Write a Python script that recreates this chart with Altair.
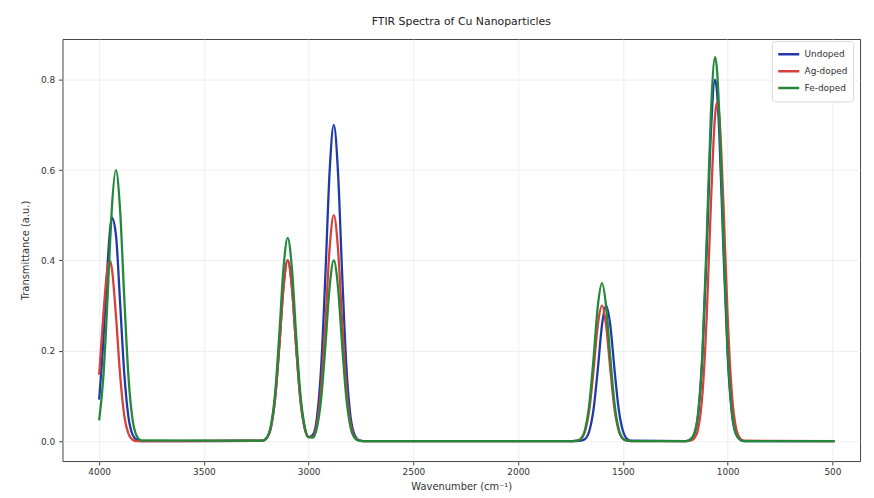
import altair as alt
import pandas as pd

# Wavenumber grid (cm^-1), sampled densely around the absorption bands
wavenumber = [4000, 3980, 3960, 3950, 3940, 3920, 3900, 3880, 3860, 3840, 3820, 3800,
              3220, 3200, 3180, 3160, 3140, 3120, 3100, 3080, 3060, 3040, 3020, 3000,
              2980, 2960, 2940, 2920, 2900, 2880, 2860, 2840, 2820, 2800, 2780, 2760, 2740,
              1740, 1720, 1700, 1680, 1660, 1640, 1620, 1600, 1580, 1560, 1540, 1520, 1500, 1480, 1460,
              1200, 1180, 1160, 1140, 1120, 1100, 1080, 1060, 1050, 1040, 1020, 1000, 980, 960, 940, 920,
              490]

undoped = [0.092, 0.222, 0.389, 0.457, 0.495, 0.457, 0.306, 0.149, 0.053, 0.014, 0.003, 0.0,
           0.001, 0.007, 0.031, 0.095, 0.211, 0.341, 0.4, 0.341, 0.211, 0.095, 0.031, 0.009,
           0.014, 0.054, 0.166, 0.369, 0.596, 0.7, 0.596, 0.369, 0.166, 0.054, 0.013, 0.002, 0.0,
           0.0, 0.0, 0.001, 0.005, 0.023, 0.071, 0.158, 0.256, 0.3, 0.256, 0.158, 0.071, 0.023, 0.005, 0.001,
           0.0, 0.003, 0.015, 0.062, 0.19, 0.422, 0.682, 0.8, 0.769, 0.682, 0.422, 0.19, 0.062, 0.015, 0.003, 0.0,
           0.0]

ag_doped = [0.147, 0.279, 0.384, 0.4, 0.384, 0.279, 0.147, 0.056, 0.016, 0.003, 0.0, 0.0,
            0.001, 0.007, 0.031, 0.095, 0.211, 0.341, 0.4, 0.341, 0.211, 0.095, 0.031, 0.009,
            0.010, 0.039, 0.119, 0.264, 0.426, 0.5, 0.426, 0.264, 0.119, 0.039, 0.009, 0.002, 0.0,
            0.0, 0.001, 0.005, 0.023, 0.071, 0.158, 0.256, 0.3, 0.256, 0.158, 0.071, 0.023, 0.005, 0.001, 0.0,
            0.0, 0.001, 0.006, 0.029, 0.106, 0.276, 0.524, 0.721, 0.75, 0.721, 0.524, 0.276, 0.106, 0.029, 0.006, 0.001,
            0.0]

fe_doped = [0.046, 0.142, 0.316, 0.419, 0.511, 0.6, 0.511, 0.316, 0.142, 0.046, 0.011, 0.002,
            0.001, 0.008, 0.035, 0.107, 0.237, 0.383, 0.45, 0.383, 0.237, 0.107, 0.035, 0.009,
            0.008, 0.031, 0.095, 0.211, 0.341, 0.4, 0.341, 0.211, 0.095, 0.031, 0.007, 0.001, 0.0,
            0.0, 0.001, 0.006, 0.027, 0.083, 0.184, 0.298, 0.35, 0.298, 0.184, 0.083, 0.027, 0.006, 0.001, 0.0,
            0.0, 0.003, 0.016, 0.066, 0.201, 0.448, 0.724, 0.85, 0.817, 0.724, 0.448, 0.201, 0.066, 0.016, 0.003, 0.0,
            0.0]

series_names = ["Undoped", "Ag-doped", "Fe-doped"]
series_colors = ["#1f3aa8", "#d6403a", "#23883a"]
x_ticks = [4000, 3500, 3000, 2500, 2000, 1500, 1000, 500]
y_ticks = [0.0, 0.2, 0.4, 0.6, 0.8]

frames = []
for name, vals in zip(series_names, [undoped, ag_doped, fe_doped]):
    frames.append(pd.DataFrame({"wavenumber": wavenumber, "value": vals, "sample": name}))

FONT = "DejaVu Sans"

x_enc = alt.X("wavenumber:Q",
              scale=alt.Scale(domain=[4175, 368], nice=False, zero=False),
              axis=alt.Axis(values=x_ticks, title="Wavenumber (cm⁻¹)", format="d",
                            labelFontSize=9, titleFontSize=10, titlePadding=5,
                            labelPadding=3, tickSize=4))
y_enc = alt.Y("value:Q",
              scale=alt.Scale(domain=[-0.044, 0.89], nice=False, zero=False),
              axis=alt.Axis(values=y_ticks, format=".1f", title="Transmittance (a.u.)",
                            labelFontSize=9, titleFontSize=10, titlePadding=10,
                            labelPadding=4, tickSize=4))
color_enc = alt.Color("sample:N",
                      scale=alt.Scale(domain=series_names, range=series_colors),
                      legend=alt.Legend(title=None, orient="none", legendX=716, legendY=2,
                                        fillColor="white", strokeColor="#d8d8d8",
                                        padding=5, cornerRadius=3,
                                        symbolType="stroke", symbolSize=450,
                                        symbolStrokeWidth=2.5, labelFontSize=9,
                                        labelColor="#333", rowPadding=0, clipHeight=17))

layers = []
for df in frames:
    layers.append(
        alt.Chart(df).mark_line(interpolate="monotone", strokeWidth=2.3).encode(
            x=x_enc, y=y_enc, color=color_enc
        )
    )

chart = alt.layer(*layers).properties(
    width=805,
    height=426,
    title=alt.TitleParams("FTIR Spectra of Cu Nanoparticles", fontSize=11,
                          fontWeight="normal", color="#222", offset=12, font=FONT),
    autosize=alt.AutoSizeParams(type="none"),
    padding={"left": 55, "top": 29, "right": 6, "bottom": 35},
).configure_view(
    stroke="#444", strokeWidth=1
).configure_axis(
    domain=False, grid=True, gridColor="#ebebeb", gridWidth=0.8,
    tickColor="#444", labelColor="#333", titleColor="#333",
    labelFont=FONT, titleFont=FONT, titleFontWeight="normal"
).configure_legend(
    labelFont=FONT
)

chart.save("out.html", embed_options={"renderer": "svg", "actions": False})
